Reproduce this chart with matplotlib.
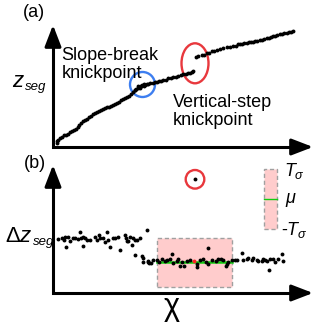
import matplotlib
matplotlib.use("Agg")
import matplotlib.pyplot as plt
from matplotlib.patches import Ellipse, Circle, Rectangle

plt.rcParams['font.family'] = ['Liberation Sans', 'DejaVu Sans']
plt.rcParams['mathtext.fontset'] = 'custom'
plt.rcParams['mathtext.rm'] = 'Liberation Sans'
plt.rcParams['mathtext.it'] = 'Liberation Sans:italic'
plt.rcParams['mathtext.sf'] = 'Liberation Sans'

# ---------------- data: panel (a) chi vs z_seg ----------------
chi_a = [3.5, 4, 5, 7, 9, 10.5, 12.5, 14.5, 16.5, 18.5, 20.5, 22.5, 24.5, 26, 28, 30.3,
         32, 34, 36, 38, 40, 42, 44, 46, 48, 50, 52, 54, 56, 58, 60, 62, 64, 66, 68,
         70, 72, 74, 76, 78, 80, 81.5, 82, 83, 84.5, 85, 86, 86.5, 87.5, 88, 89, 90.5,
         91, 92, 94,
         95, 97, 99.5, 102, 104, 106, 108, 110.3, 113, 115.3, 118, 120.3, 123, 125.3,
         128, 130.3, 133, 135.3, 137, 138.7, 140.3,
         142.5, 145.3, 148.7, 151, 153.7, 156, 158.7, 161, 163.7, 167, 170, 173.7, 177,
         180.3, 183, 185, 187, 189, 191, 193.7, 196, 198, 200.3, 202, 204, 207, 209,
         211, 213.7, 216, 218, 220.3, 222, 224, 227, 229, 231, 233.7, 236, 238, 240.3]
z_a = [4, 6, 7.5, 9, 10.5, 12, 12.5, 13, 15, 16.5, 17, 18.5, 20, 22, 24.5, 26,
       27.5, 28.5, 30, 31.5, 33, 34, 35.5, 36.5, 37.5, 38.5, 39.5, 40, 40.5, 41.5, 42.5,
       43.5, 44, 45.5, 47, 48.5, 49.5, 50.5, 51.5, 53, 55, 57, 57.5, 58, 59.5, 61, 60,
       59, 61.5, 61, 62.5, 63, 61.5, 62, 63.5,
       63.5, 63.7, 64, 64.7, 65.5, 66, 66, 67, 67.5, 68.7, 69, 69.7, 70.5, 71.3,
       72, 72.7, 73, 73.7, 74.5, 75.3, 76,
       90.5, 91.3, 92, 92.5, 93.7, 94.5, 96, 96.5, 97, 97.7, 99, 99.7, 100.5,
       101, 101.5, 103, 102.7, 103.5, 104, 104.3, 105, 105, 105.3, 106, 106.5, 107, 107.5,
       108, 108.7, 109.5, 110.5, 111, 111.5, 112, 113, 113.5, 114, 114.3, 115, 115.5, 116.3]

# ---------------- data: panel (b) chi vs delta z_seg ----------------
chi_b = [5.3, 8.7, 11, 12, 13, 15.3, 17, 20.3, 22, 25.3, 27, 27.7, 29.7, 30.3, 32, 33.7,
         37, 42, 43.7, 46.3, 47, 50.3, 52, 53.7, 55.3, 57, 60.3, 62, 65.3, 67, 72, 73,
         73.7, 75.3, 77, 78.7, 80.3, 82, 84.3, 87, 82, 88.7, 89.7, 93.7, 95.3, 96.3, 90.3,
         95.3, 97.7, 100.3, 103.7, 106.3, 108.7, 112, 113.7, 117, 118.7, 120.3, 123.7,
         125.3, 127, 128.7, 131, 133.7, 137, 143.7, 144.3, 147, 150.3, 152.7, 155.3, 155.3,
         158.7, 163, 165.3, 167.7, 170.3, 173, 173.7, 175.3, 178.7, 182, 184.3, 188.7,
         190.3, 193.7, 195.3, 198.7, 200.3, 203.7, 205.3, 208.7, 210.3, 212, 213.7, 216.3,
         217, 220.3, 222, 225.3, 228.7, 230.3]
dz_b = [53.7, 55.3, 53, 56.3, 46.3, 56.3, 52, 55.3, 55.3, 54, 61.3, 55.3, 56.3, 47.3, 54.7, 53,
        53, 56.3, 53, 58, 54.7, 55.3, 51.3, 60.7, 53, 46.3, 54.7, 55.3, 56.3, 43, 58, 54.7,
        52, 52, 56.3, 48, 54.7, 53, 53, 54.7, 38, 37.3, 34.7, 63, 32, 29.7, 31.3,
        31.3, 29.7, 33, 33, 30.7, 33.7, 32, 33, 33.7, 38.7, 29.7, 32,
        33.7, 27, 31.3, 27, 32, 33, 25.7, 28.7, 33, 33.7, 30.7, 44.7, 29,
        33, 32, 33.7, 34, 33, 27, 29, 31.3, 33, 33, 33, 40.3,
        33, 34, 35.3, 33, 34.7, 33, 32, 32, 33.7, 33, 32, 23,
        33.7, 33.7, 31.3, 33.7, 39, 32]

# tested point, outlier and moving window statistics
test_chi, test_dz = 141.3, 32.5
outlier_chi, outlier_dz = 142, 113.7
window = (103.7, 179.3)
mu = 31.0
T_sigma = 24.5

# ---------------- figure ----------------
W, H = 320, 325
fig = plt.figure(figsize=(W / 100, H / 100), dpi=100)
ax_a = fig.add_axes([53 / W, (H - 147) / H, 267 / W, 137 / H])
ax_b = fig.add_axes([53 / W, (H - 293) / H, 267 / W, 138 / H])
ax_a.set_xlim(0, 267); ax_a.set_ylim(0, 137)
ax_b.set_xlim(0, 267); ax_b.set_ylim(0, 138)
for ax in (ax_a, ax_b):
    ax.axis('off')


def draw_axes(ax, ytip, xtip):
    ax.plot([0, 0, xtip - 8], [ytip - 8, 0, 0], color='k', lw=2.2,
            solid_joinstyle='miter', solid_capstyle='butt', clip_on=False)
    for tip in [(0, ytip), (xtip, 0)]:
        start = (0, ytip - 20) if tip[0] == 0 else (xtip - 20, 0)
        ax.annotate('', xy=tip, xytext=start,
                    arrowprops=dict(arrowstyle='-|>,head_length=1.3,head_width=0.5',
                                    color='k', lw=2.2, shrinkA=0, shrinkB=0),
                    annotation_clip=False)


def seg_label(ax, x, y, main):
    t = ax.text(x, y, main, fontsize=16, ha='left', va='baseline')
    ax.annotate('seg', xy=(1, 0), xycoords=t, xytext=(0.3, 1.5),
                textcoords='offset points', fontsize=9.5, fontstyle='italic',
                ha='left', va='baseline', annotation_clip=False)


# panel (a)
draw_axes(ax_a, 122, 260)
ax_a.plot(chi_a, z_a, 'o', color='k', ms=2.8, mew=0, clip_on=False)
ax_a.add_patch(Circle((89.5, 62.5), 12.5, fill=False, ec='#3d7ef0', lw=1.7))
ax_a.add_patch(Ellipse((142, 83.7), 27, 40, fill=False, ec='#e8383d', lw=1.7))
ax_a.text(-19, 134.5, '(a)', fontsize=13, ha='center', va='center')
ax_a.text(8.5, 100, 'Slope-break\nknickpoint', fontsize=13, ha='left', va='top',
          linespacing=1.05)
ax_a.text(120, 53, 'Vertical-step\nknickpoint', fontsize=13, ha='left', va='top',
          linespacing=1.05)
seg_label(ax_a, -41.5, 60.3, r'$z$')

# panel (b)
draw_axes(ax_b, 128, 260)
ax_b.add_patch(Rectangle((window[0], mu - T_sigma), window[1] - window[0], 2 * T_sigma,
                         fc='#ffcccc', ec='#a0a0a0', ls=(0, (3, 2)), lw=1.0, zorder=1))
ax_b.plot(window, [mu, mu], color='#11cc11', lw=1.8, zorder=2)
ax_b.plot(chi_b, dz_b, 'o', color='k', ms=2.8, mew=0, zorder=3, clip_on=False)
ax_b.plot([test_chi], [test_dz], 'o', color='#ff2020', ms=2.8, mew=0, zorder=4)
ax_b.plot([outlier_chi], [outlier_dz], 'o', color='k', ms=2.8, mew=0, zorder=4)
ax_b.add_patch(Circle((outlier_chi, outlier_dz), 9.3, fill=False, ec='#e8383d', lw=1.7))
ax_b.text(-18.5, 130, '(b)', fontsize=13, ha='center', va='center')
seg_label(ax_b, -48, 51.3, r'$\Delta z$')
ax_b.text(118.5, -14, 'χ', fontsize=22, ha='center', va='center')

# legend of the window statistics
ax_b.add_patch(Rectangle((211.3, 63.7), 12.4, 60, fc='#ffcccc', ec='#a0a0a0',
                         ls=(0, (3, 2)), lw=1.0, clip_on=False))
ax_b.plot([211.3, 223.7], [93.7, 93.7], color='#11cc11', lw=1.0, clip_on=False)
ax_b.text(231, 122, r'$T_{\sigma}$', fontsize=13, ha='left', va='center')
ax_b.text(238, 93, r'$\mu$', fontsize=13, ha='center', va='center')
ax_b.text(228, 63, r'-$T_{\sigma}$', fontsize=13, ha='left', va='center')

fig.savefig('out.png', dpi=100)
